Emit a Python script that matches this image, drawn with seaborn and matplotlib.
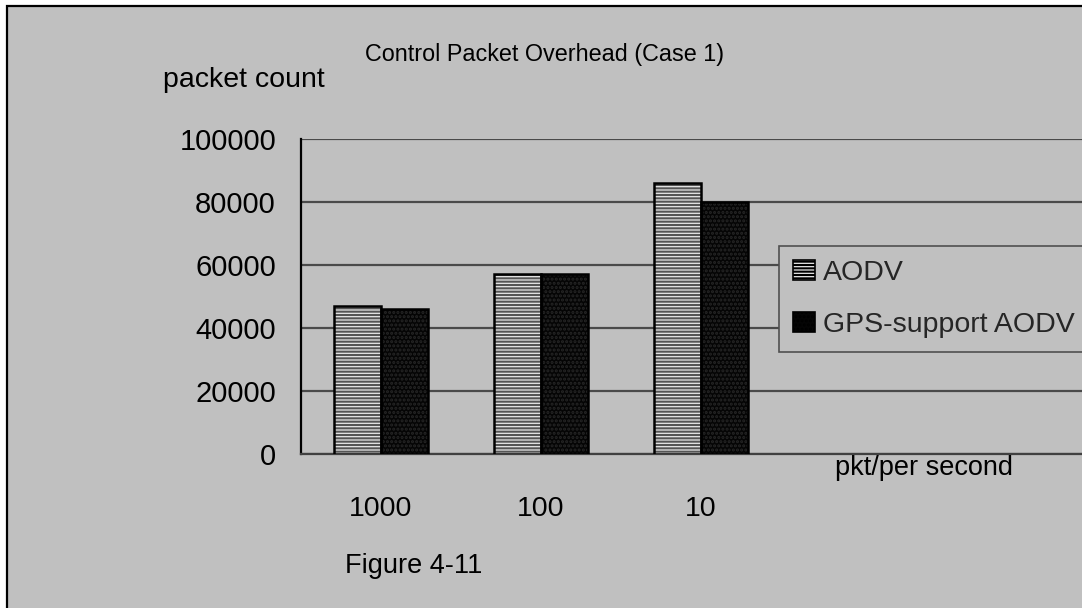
import matplotlib
matplotlib.use("Agg")
import matplotlib.pyplot as plt
from matplotlib.patches import Rectangle, Patch
import pandas as pd
import seaborn as sns

# Control packet counts per send rate
rates = ["1000", "100", "10"]
series = ["AODV", "GPS-support AODV"]
aodv_counts = [47000, 57300, 86000]
gps_counts = [46000, 57000, 80000]
y_ticks = [0, 20000, 40000, 60000, 80000, 100000]

df = pd.DataFrame({
    "rate": rates * 2,
    "protocol": [series[0]] * len(rates) + [series[1]] * len(rates),
    "count": aodv_counts + gps_counts,
})

sns.set_theme(style="white")
plt.rcParams["font.family"] = ["Liberation Sans", "DejaVu Sans"]
plt.rcParams["hatch.linewidth"] = 1.5

W, H = 1082, 608
fig = plt.figure(figsize=(W / 100, H / 100), dpi=100, facecolor="white")

# grey chart background with a frame line on its top and left
fig.add_artist(Rectangle((7 / W, -0.2), 1.5, 1.2 - 6 / H, transform=fig.transFigure,
                         facecolor="#C0C0C0", edgecolor="black", lw=1.6, zorder=-10))

ax = fig.add_axes([301 / W, 1 - 454 / H, 1 - 301 / W, 315 / H])
ax.set_facecolor("none")

sns.barplot(data=df, x="rate", y="count", hue="protocol", order=rates,
            hue_order=series, palette=["#e8e8e8", "#050505"], width=0.59,
            gap=0, saturation=1, legend=False, ax=ax, zorder=3)

styles = [
    dict(hatch="-----", hatch_color="#555555", face="#e8e8e8"),
    dict(hatch="....", hatch_color="#262626", face="#050505"),
]
for container, st in zip(ax.containers, styles):
    for bar in container:
        bar.set_hatch(st["hatch"])
        bar.set_edgecolor(st["hatch_color"])
        bar.set_linewidth(0)
        ax.add_patch(Rectangle(bar.get_xy(), bar.get_width(), bar.get_height(),
                               fill=False, edgecolor="black", lw=1.8, zorder=4))

ax.set_xlim(-0.5, -0.5 + (W - 301) / 160)
ax.set_ylim(0, 100000)
ax.set_yticks(y_ticks)
ax.set_yticklabels([str(v) for v in y_ticks])
ax.yaxis.grid(True, color="#4a4a4a", lw=1.6)
ax.xaxis.grid(False)
ax.set_xlabel("")
ax.set_ylabel("")

for side in ("top", "right"):
    ax.spines[side].set_visible(False)
ax.spines["left"].set_color("black")
ax.spines["left"].set_linewidth(1.6)
ax.spines["bottom"].set_color("#404040")
ax.spines["bottom"].set_linewidth(1.6)

ax.tick_params(axis="y", direction="in", length=10, width=1.5, color="black",
               labelsize=21, pad=18, labelcolor="black")
ax.tick_params(axis="x", which="major", length=0, pad=30, labelsize=20.5,
               labelcolor="black")
ax.set_xticks([0.5, 1.5], minor=True)
ax.tick_params(axis="x", which="minor", direction="in", length=10, width=1.2,
               color="#404040")

fig.text(545 / W, 1 - 55 / H, "Control Packet Overhead (Case 1)", ha="center",
         va="center", fontsize=16.8, color="black")
fig.text(163 / W, 1 - 80 / H, "packet count", ha="left", va="center",
         fontsize=20.5, color="black")
fig.text(835 / W, 1 - 468 / H, "pkt/per second", ha="left", va="center",
         fontsize=19.5, color="black")
fig.text(345 / W, 1 - 566 / H, "Figure 4-11", ha="left", va="center",
         fontsize=19.5, color="black")

handles = [Patch(facecolor=st["face"], edgecolor="black", hatch=st["hatch"], lw=1.2)
           for st in styles]
leg = fig.legend(handles, series, loc="upper left",
                 bbox_to_anchor=(779 / W, 1 - 246 / H), frameon=True, fancybox=False,
                 edgecolor="#505050", facecolor="#C0C0C0", framealpha=1,
                 fontsize=20.5, handlelength=0.75, handleheight=0.7,
                 handletextpad=0.3, borderpad=0.5, labelspacing=0.9,
                 borderaxespad=0)
leg.get_frame().set_linewidth(1.2)

fig.savefig("out.png", dpi=100, facecolor=fig.get_facecolor())
